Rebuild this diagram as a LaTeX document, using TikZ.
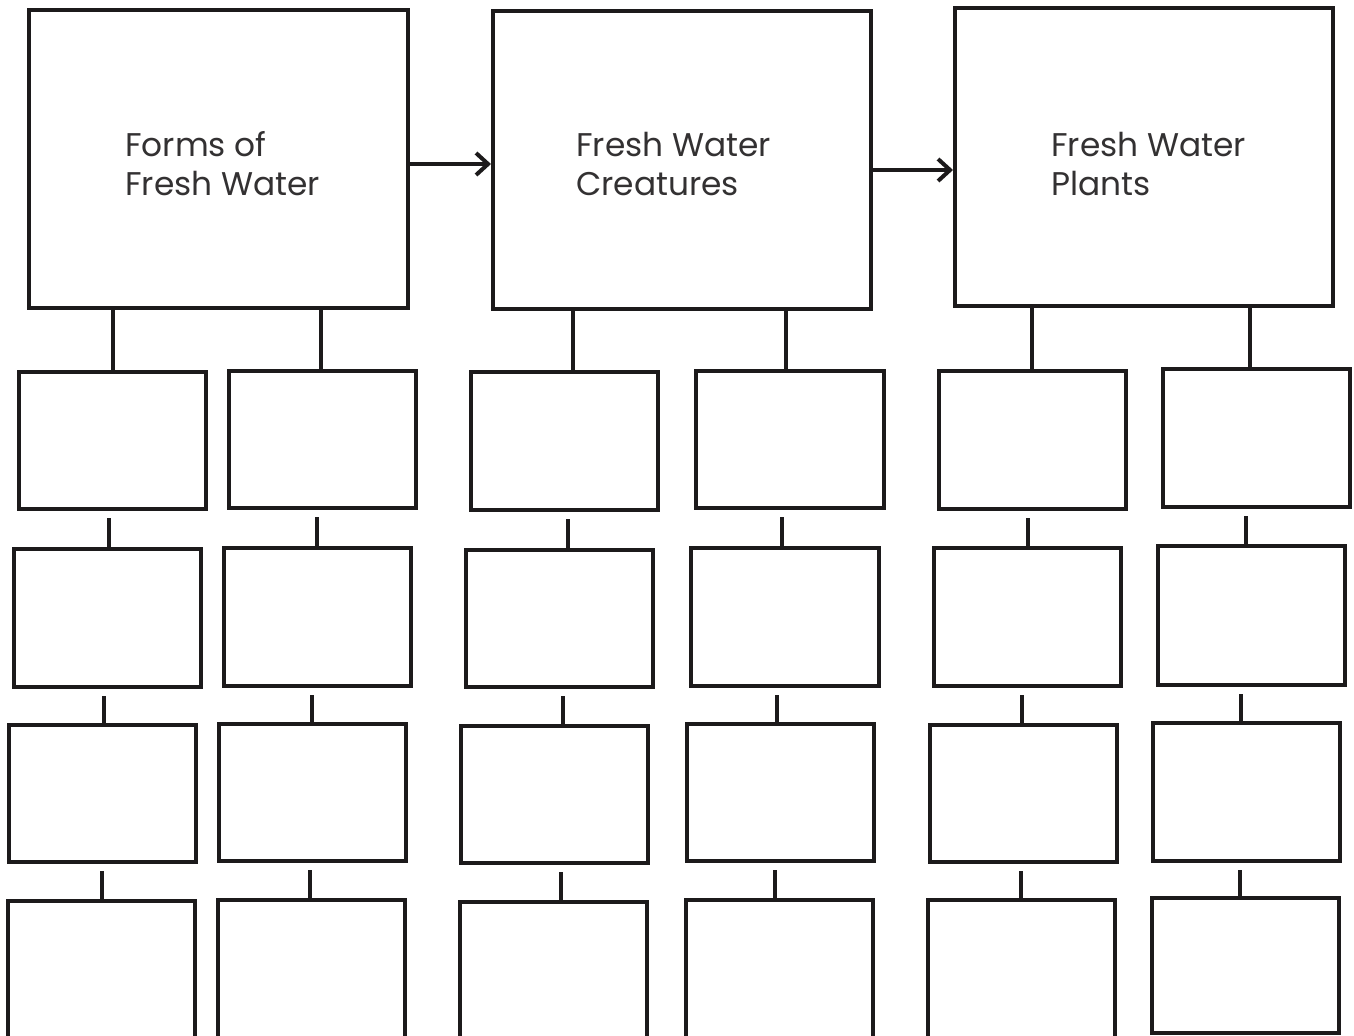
\documentclass[tikz,border=0pt]{standalone}
\usepackage{fontspec}
\setmainfont{Poppins}
\usetikzlibrary{arrows.meta,fit}
\definecolor{ink}{HTML}{1C1A1B}
\definecolor{txt}{HTML}{333132}
\tikzset{
  bx/.style={draw=ink,line width=2pt,inner sep=0pt,fill=white},
  link/.style={draw=ink,line width=2pt},
  flow/.style={draw=ink,line width=2pt,-{Straight Barb[length=6pt,width=11pt,line width=2pt]}},
  lbl/.style={text=txt,font=\fontsize{16.4}{19.5}\selectfont,align=left,inner sep=0pt,anchor=base west}
}
\newcommand{\mybox}[5]{\node[bx,fit={(#2,#3)(#4,#5)}] (#1) {};}
\begin{document}
\begin{tikzpicture}[x=0.5pt,y=-0.5pt]
\useasboundingbox (0,0) rectangle (1354,1035);
\begin{scope}
\clip (0,0) rectangle (1354,1035);
% top boxes
\mybox{A}{29}{10}{408}{308}
\mybox{B}{493}{11}{871}{309}
\mybox{C}{955}{8}{1333}{306}
% column 1
\mybox{a1}{19}{372}{206}{509}
\mybox{a2}{14}{549}{201}{687}
\mybox{a3}{9}{725}{196}{862}
\mybox{a4}{8}{901}{195}{1090}
% column 2
\mybox{b1}{229}{371}{416}{508}
\mybox{b2}{224}{548}{411}{686}
\mybox{b3}{219}{724}{406}{861}
\mybox{b4}{218}{900}{405}{1090}
% column 3
\mybox{c1}{471}{372}{658}{510}
\mybox{c2}{466}{550}{653}{687}
\mybox{c3}{461}{726}{648}{863}
\mybox{c4}{460}{902}{647}{1090}
% column 4
\mybox{d1}{696}{371}{884}{508}
\mybox{d2}{691}{548}{879}{686}
\mybox{d3}{687}{724}{874}{861}
\mybox{d4}{686}{900}{873}{1090}
% column 5
\mybox{e1}{939}{371}{1126}{509}
\mybox{e2}{934}{548}{1121}{686}
\mybox{e3}{930}{725}{1117}{862}
\mybox{e4}{928}{900}{1115}{1090}
% column 6
\mybox{f1}{1163}{369}{1350}{507}
\mybox{f2}{1158}{546}{1345}{685}
\mybox{f3}{1153}{723}{1340}{861}
\mybox{f4}{1152}{898}{1339}{1033}
\end{scope}
% labels
\node[lbl] (tA) at (125,195) {Forms of\\Fresh Water};
\node[lbl] (tB) at (576,195) {Fresh Water\\Creatures};
\node[lbl] (tC) at (1051,195) {Fresh Water\\Plants};
% arrows
\draw[flow] (A.east |- 0,164) -- (B.west |- 0,164);
\draw[flow] (B.east |- 0,170) -- (C.west |- 0,170);
% top links
\draw[link] (A.south -| 113,0) -- (a1.north -| 113,0);
\draw[link] (A.south -| 321,0) -- (b1.north -| 321,0);
\draw[link] (B.south -| 573,0) -- (c1.north -| 573,0);
\draw[link] (B.south -| 786,0) -- (d1.north -| 786,0);
\draw[link] (C.south -| 1032,0) -- (e1.north -| 1032,0);
\draw[link] (C.south -| 1250,0) -- (f1.north -| 1250,0);
% stubs
\newcommand{\stub}[3]{\draw[link,shorten <=3.5pt] (#1.south -| #3,0) -- (#2.north -| #3,0);}
\stub{a1}{a2}{109}\stub{a2}{a3}{104}\stub{a3}{a4}{102}
\stub{b1}{b2}{317}\stub{b2}{b3}{312}\stub{b3}{b4}{310}
\stub{c1}{c2}{568}\stub{c2}{c3}{563}\stub{c3}{c4}{561}
\stub{d1}{d2}{782}\stub{d2}{d3}{777}\stub{d3}{d4}{775}
\stub{e1}{e2}{1028}\stub{e2}{e3}{1022}\stub{e3}{e4}{1021}
\stub{f1}{f2}{1246}\stub{f2}{f3}{1241}\stub{f3}{f4}{1240}
\end{tikzpicture}
\end{document}
